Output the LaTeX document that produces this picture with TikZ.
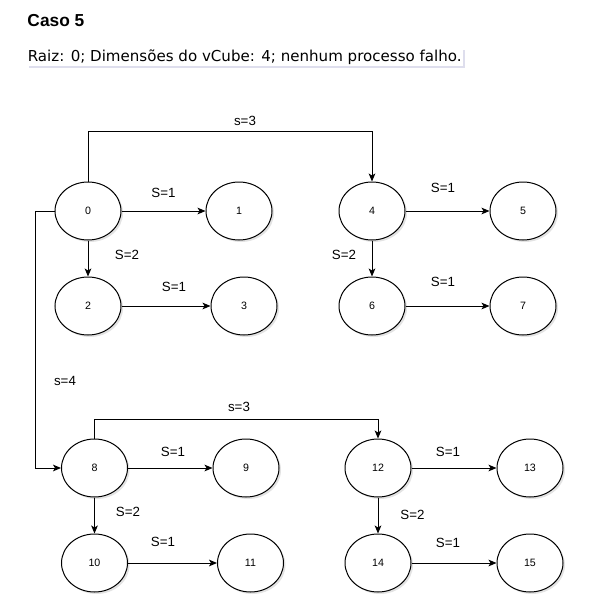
\documentclass[tikz,border=0pt]{standalone}
\usepackage{fontspec}
\setmainfont{Liberation Sans}
\newfontfamily\verdanalike{DejaVu Sans}
\usetikzlibrary{shapes.geometric,arrows.meta,shadows}

\tikzset{every picture/.style={line width=0.75pt}}
\tikzset{
  proc/.style={ellipse,draw,fill=white,minimum width=49.5pt,minimum height=43.5pt,inner sep=0pt,font=\fontsize{8}{9}\selectfont,
    drop shadow={shadow xshift=1.5pt,shadow yshift=-1.5pt,opacity=0.22}},
  link/.style={-{Stealth[length=6pt,width=5pt,inset=1.5pt]}},
  lbl/.style={inner sep=0.75pt,font=\fontsize{10}{12}\selectfont}
}

\begin{document}
\begin{tikzpicture}[x=0.75pt,y=0.75pt,yscale=-1,xscale=1]
\useasboundingbox (0,0) rectangle (591,601);

% Text Node
\node (title) [anchor=west,inner sep=0.75pt,font=\bfseries\fontsize{13}{15}\selectfont] at (26,21) {Caso 5};
% Text Node
\node (sub) [anchor=west,inner sep=1pt,fill=white,font=\verdanalike\fontsize{11.3}{13}\selectfont,
  drop shadow={shadow xshift=1.5pt,shadow yshift=-1.5pt,opacity=0.2,fill=blue!30!gray}] at (26,57) {Raiz: 0; Dimensões do vCube: 4; nenhum processo falho.};

%Shape: Ellipse
\node (n0) [proc] at (88,211) {0};
\node (n1) [proc] at (239,211) {1};
\node (n2) [proc] at (88,306) {2};
\node (n3) [proc] at (244,306) {3};
\node (n4) [proc] at (372,211) {4};
\node (n5) [proc] at (523,211) {5};
\node (n6) [proc] at (372,306) {6};
\node (n7) [proc] at (523,306) {7};
\node (n8) [proc] at (94.5,468) {8};
\node (n9) [proc] at (246,468) {9};
\node (n10) [proc] at (94.5,563) {10};
\node (n11) [proc] at (250.5,563) {11};
\node (n12) [proc] at (378,468) {12};
\node (n13) [proc] at (530,468) {13};
\node (n14) [proc] at (378,563) {14};
\node (n15) [proc] at (530,563) {15};

%Connectors
\draw [link] (n0) -- (n1);
\draw [link] (n0) -- (n2);
\draw [link] (n2) -- (n3);
\draw [link] (n4) -- (n5);
\draw [link] (n4) -- (n6);
\draw [link] (n6) -- (n7);
\draw [link] (n8) -- (n9);
\draw [link] (n8) -- (n10);
\draw [link] (n10) -- (n11);
\draw [link] (n12) -- (n13);
\draw [link] (n12) -- (n14);
\draw [link] (n14) -- (n15);
\draw [link] (n0.north) -- ++(0,-50) -| (n4.north);
\draw [link] (n0.west) -- ++(-19,0) |- (n8.west);
\draw [link] (n8.north) -- ++(0,-19) -| (n12.north);

% Text Node
\node (l01) [lbl] at (163.5,193) {S=1};
\node (l02) [lbl] at (127,255) {S=2};
\node (l23) [lbl] at (174,287) {S=1};
\node (l04) [lbl] at (245,121) {s=3};
\node (l45) [lbl] at (443,188) {S=1};
\node (l46) [lbl] at (344,255) {S=2};
\node (l67) [lbl] at (443,282) {S=1};
\node (l08) [lbl] at (65,381) {s=4};
\node (l812) [lbl] at (239,407) {s=3};
\node (l89) [lbl] at (173,452) {S=1};
\node (l810) [lbl] at (128,512) {S=2};
\node (l1011) [lbl] at (163,542) {S=1};
\node (l1213) [lbl] at (448,452) {S=1};
\node (l1214) [lbl] at (412.5,515) {S=2};
\node (l1415) [lbl] at (448,543) {S=1};

\end{tikzpicture}
\end{document}
